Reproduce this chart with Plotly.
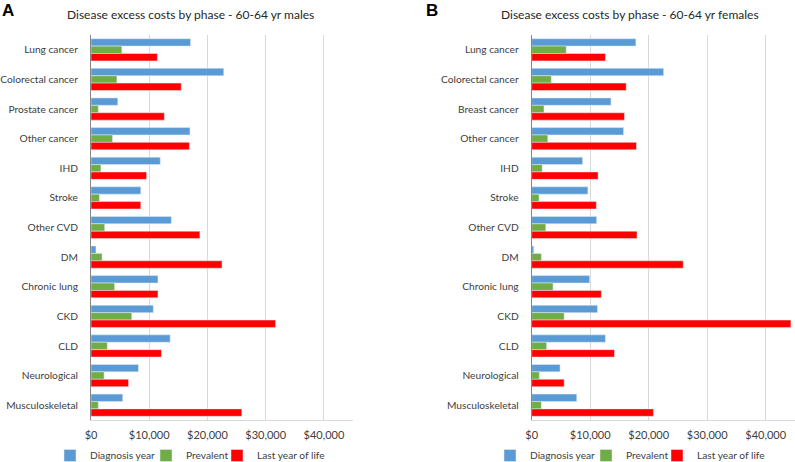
import plotly.graph_objects as go

cats_m = ["Lung cancer", "Colorectal cancer", "Prostate cancer", "Other cancer", "IHD", "Stroke",
          "Other CVD", "DM", "Chronic lung", "CKD", "CLD", "Neurological", "Musculoskeletal"]
diag_m = [17100, 22800, 4600, 17000, 11900, 8550, 13800, 850, 11500, 10700, 13600, 8150, 5450]
prev_m = [5300, 4450, 1250, 3700, 1700, 1450, 2350, 1900, 4050, 7000, 2800, 2250, 1250]
last_m = [11400, 15500, 12600, 16900, 9550, 8550, 18700, 22500, 11500, 31700, 12100, 6450, 25900]

cats_f = ["Lung cancer", "Colorectal cancer", "Breast cancer", "Other cancer", "IHD", "Stroke",
          "Other CVD", "DM", "Chronic lung", "CKD", "CLD", "Neurological", "Musculoskeletal"]
diag_f = [17800, 22550, 13550, 15700, 8700, 9600, 11100, 350, 9900, 11250, 12600, 4850, 7700]
prev_f = [5900, 3350, 2100, 2750, 1800, 1250, 2400, 1650, 3650, 5550, 2550, 1300, 1650]
last_f = [12600, 16150, 15850, 17900, 11350, 11050, 18000, 25900, 11900, 44300, 14150, 5550, 20800]

series_names = ["Diagnosis year", "Prevalent", "Last year of life"]
colors = ["#5B9BD5", "#70AD47", "#FF0000"]

FONT = "Lato"
W = 795
H = 470  # page window is 462 tall; the extra px are only the legend box's bottom padding
fig = go.Figure()

# one legend per legend entry so each entry can be placed like the reference
leg_ids_m = ["legend", "legend2", "legend3"]
leg_ids_f = ["legend4", "legend5", "legend6"]
leg_x_m = [50, 146, 217]
leg_x_f = [490, 586, 657]

for vals, name, col, lid in zip([diag_m, prev_m, last_m], series_names, colors, leg_ids_m):
    fig.add_trace(go.Bar(y=cats_m, x=vals, orientation="h", name=name, marker_color=col,
                         xaxis="x", yaxis="y", legend=lid))
for vals, name, col, lid in zip([diag_f, prev_f, last_f], series_names, colors, leg_ids_f):
    fig.add_trace(go.Bar(y=cats_f, x=vals, orientation="h", name=name, marker_color=col,
                         xaxis="x2", yaxis="y2", legend=lid))

ydom = [1 - 420 / H, 1 - 35 / H]

xcommon = dict(range=[0, 45000], dtick=10000, tickprefix="$", tickformat=",", showgrid=True,
               gridcolor="#D9D9D9", gridwidth=1, showline=True, linecolor="#D9D9D9",
               zeroline=False, ticks="", tickfont=dict(size=11, color="#404040", family=FONT),
               fixedrange=True, automargin=False, ticklabelstandoff=5)
ycommon = dict(autorange="reversed", showline=True, linecolor="#868686", ticks="",
               tickfont=dict(size=10.2, color="#404040", family=FONT), showgrid=False,
               ticklabelstandoff=10, automargin=False, fixedrange=True)

legcommon = dict(orientation="h", xref="paper", yref="paper", y=0,
                 xanchor="left", yanchor="bottom", font=dict(size=10.2, color="#404040", family=FONT),
                 itemwidth=30, bgcolor="rgba(0,0,0,0)", tracegroupgap=0)

legends = {}
for lid, lx in zip(leg_ids_m + leg_ids_f, leg_x_m + leg_x_f):
    legends[lid] = dict(x=lx / W, **legcommon)

fig.update_layout(
    width=W, height=H,
    showlegend=True,
    margin=dict(l=0, r=0, t=0, b=0),
    paper_bgcolor="white", plot_bgcolor="white",
    barmode="group", bargap=0.25, bargroupgap=0,
    font=dict(family=FONT, color="#404040"),
    xaxis=dict(domain=[91 / W, 353 / W], anchor="y", **xcommon),
    yaxis=dict(domain=ydom, anchor="x", **ycommon),
    xaxis2=dict(domain=[531.7 / W, 1.0], anchor="y2", **xcommon),
    yaxis2=dict(domain=ydom, anchor="x2", **ycommon),
    annotations=[
        dict(text="Disease excess costs by phase - 60-64 yr males", x=190 / W, y=1 - 15 / H,
             xref="paper", yref="paper", showarrow=False, xanchor="center", yanchor="middle",
             font=dict(size=12, color="#262626", family=FONT)),
        dict(text="Disease excess costs by phase - 60-64 yr females", x=630 / W, y=1 - 15 / H,
             xref="paper", yref="paper", showarrow=False, xanchor="center", yanchor="middle",
             font=dict(size=12, color="#262626", family=FONT)),
        dict(text="<b>A</b>", x=0 / W, y=1 - 11 / H, xref="paper", yref="paper", showarrow=False,
             xanchor="left", yanchor="middle", font=dict(size=17, color="black", family="Liberation Sans")),
        dict(text="<b>B</b>", x=424 / W, y=1 - 11 / H, xref="paper", yref="paper", showarrow=False,
             xanchor="left", yanchor="middle", font=dict(size=17, color="black", family="Liberation Sans")),
    ],
    **legends,
)

fig.write_html("out.html", config={"displayModeBar": False},
               post_script="document.body.style.margin='0';document.body.style.overflow='hidden';")
